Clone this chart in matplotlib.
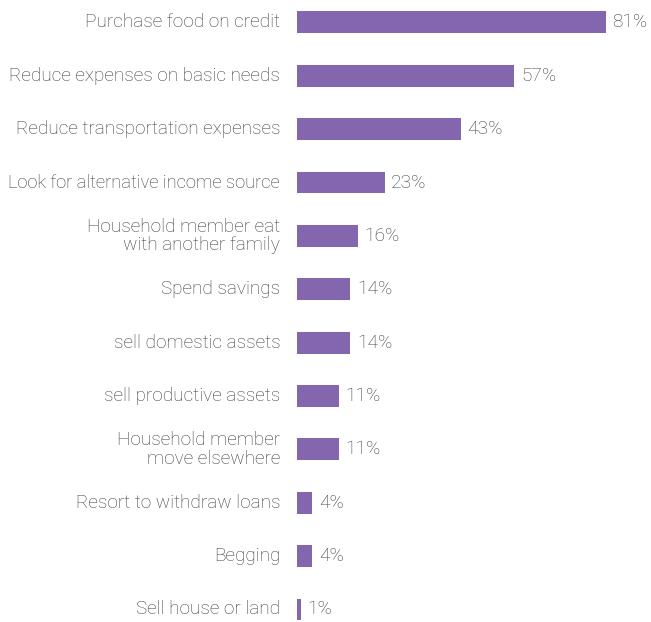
import matplotlib
matplotlib.use("Agg")
import matplotlib.pyplot as plt

categories = [
    "Purchase food on credit",
    "Reduce expenses on basic needs",
    "Reduce transportation expenses",
    "Look for alternative income source",
    "Household member eat\nwith another family",
    "Spend savings",
    "sell domestic assets",
    "sell productive assets",
    "Household member\nmove elsewhere",
    "Resort to withdraw loans",
    "Begging",
    "Sell house or land",
]
values = [81, 57, 43, 23, 16, 14, 14, 11, 11, 4, 4, 1]

bar_color = "#8466AE"
text_color = "#3c3c3c"
font = "Roboto"

W, H = 651, 622
fig = plt.figure(figsize=(W / 100, H / 100), dpi=100)
left_px, right_px = 297, 640
ax = fig.add_axes([left_px / W, 0, (right_px - left_px) / W, 1])

y = list(range(len(categories)))
ax.barh(y, values, height=0.41, color=bar_color)
ax.set_xlim(0, (right_px - left_px) / 3.815)
ax.set_ylim(11.235, -0.42)

for yi, v in zip(y, values):
    ax.text(v + 1.7, yi, f"{v}%", va="center", ha="left", fontsize=13.8,
            color=text_color, family=font, fontweight="light")

# category labels, shrunk where needed so they stay inside the figure
renderer = fig.canvas.get_renderer()
max_width_px = 272
for yi, c in zip(y, categories):
    t = ax.text(-4.4, yi, c, va="center", ha="right", fontsize=13.7,
                color=text_color, family=font, fontweight="light",
                linespacing=1.05)
    w = t.get_window_extent(renderer).width
    if w > max_width_px:
        t.set_fontsize(13.7 * max_width_px / w)

ax.axis("off")
fig.savefig("out.png", dpi=100)
